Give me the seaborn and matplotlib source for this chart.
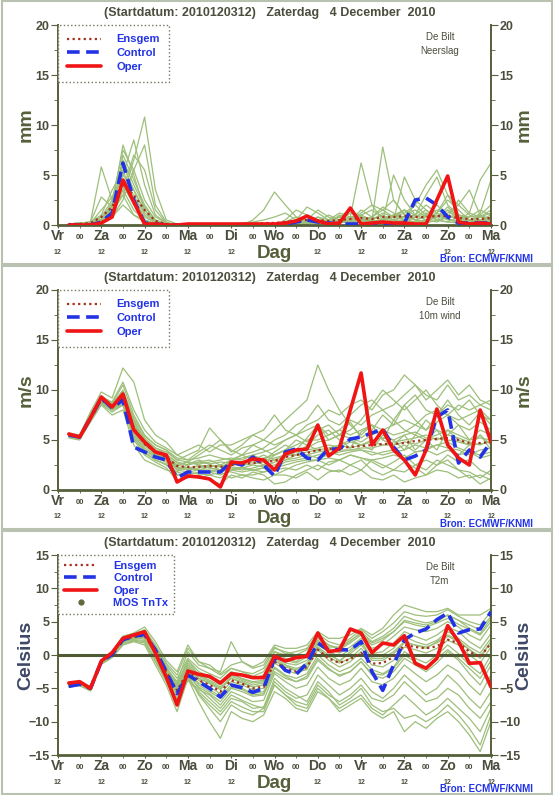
import numpy as np
import pandas as pd
import seaborn as sns
import matplotlib.pyplot as plt
import matplotlib.transforms as mtransforms
from matplotlib.lines import Line2D
from matplotlib.patches import Rectangle
from matplotlib.ticker import MultipleLocator, FixedLocator

sns.set_style("white")
plt.rcParams['font.family'] = ['Liberation Sans', 'DejaVu Sans']

# forecast hours after 2010120312, 6-hourly
hours = list(range(6, 241, 6))
day_names = ['Vr', 'Za', 'Zo', 'Ma', 'Di', 'Wo', 'Do', 'Vr', 'Za', 'Zo', 'Ma']
title = '(Startdatum: 2010120312)   Zaterdag   4 December  2010'

# ---------------- Neerslag (mm) ----------------
precip_oper = [0, 0, 0, 0.2, 0.8, 4.5, 2.3, 0.1, 0.1, 0,
               0, 0.1, 0.1, 0.1, 0.1, 0.1, 0.1, 0.1, 0.1, 0.1,
               0.2, 0.4, 0.9, 0.4, 0.1, 0.2, 1.7, 0.1, 0.2, 0.3,
               0.2, 0.2, 0.1, 0.1, 2.5, 4.9, 0.3, 0.1, 0.2, 0.1]
precip_control = [0, 0, 0, 0.3, 1.2, 6.2, 2.5, 0.2, 0.1, 0,
                  0, 0, 0, 0, 0, 0, 0, 0, 0, 0,
                  0.1, 0.3, 0.5, 0.3, 0.2, 0.1, 0.1, 0.1, 0.1, 0.2,
                  0.1, 0.2, 2.5, 2.7, 2.0, 0.8, 0.2, 0.2, 0.2, 0.2]
precip_mean = [0.1, 0.1, 0.2, 0.8, 1.8, 4.0, 3.0, 1.5, 0.4, 0.1,
               0, 0, 0, 0, 0, 0, 0.1, 0.1, 0.2, 0.2,
               0.3, 0.4, 0.5, 0.5, 0.4, 0.5, 0.6, 0.7, 0.6, 0.8,
               0.8, 0.9, 0.8, 0.8, 0.9, 0.9, 0.7, 0.6, 0.6, 0.7]
precip_members = [
    [0, 0.1, 0.2, 0.8, 1.5, 4.5, 3.0, 1.0, 0.2, 0.1, 0, 0, 0, 0, 0, 0, 0, 0, 0, 0,
     0.2, 0.5, 0.3, 0.8, 0.2, 0.5, 1.2, 0.8, 0.3, 0.5, 1.0, 0.5, 0.8, 1.5, 0.5, 0.3, 0.8, 0.5, 0.2, 0.5],
    [0.1, 0.2, 0.3, 5.8, 2.5, 3.5, 1.5, 0.5, 0.1, 0, 0, 0, 0, 0, 0, 0, 0, 0, 0, 0,
     0, 0, 0.5, 1.5, 0.8, 0.3, 0.5, 1.2, 2.0, 1.5, 0.8, 1.2, 2.0, 1.0, 0.5, 1.5, 0.8, 0.3, 0.5, 1.0],
    [0, 0, 0.1, 0.5, 1.2, 3.0, 6.5, 10.8, 3.5, 0.5, 0.1, 0, 0, 0, 0, 0, 0, 0, 0, 0,
     0, 0.3, 0.8, 0.4, 0.2, 1.0, 0.5, 0.2, 0.8, 1.8, 1.2, 0.5, 1.0, 2.0, 1.2, 0.6, 0.4, 0.3, 0.8, 0.5],
    [0.1, 0.1, 0.2, 0.5, 2.0, 6.0, 3.5, 1.2, 0.3, 0.1, 0, 0, 0, 0, 0, 0.1, 0.2, 0.3, 0.5, 0.8,
     1.2, 0.5, 0.2, 0.3, 0.5, 0.3, 0.8, 6.2, 2.0, 0.5, 0.8, 1.5, 1.0, 3.0, 4.8, 2.0, 1.0, 0.5, 0.8, 1.2],
    [0, 0.1, 0.2, 1.5, 2.8, 5.0, 8.5, 4.0, 1.0, 0.2, 0, 0, 0, 0, 0, 0, 0, 0, 0, 0,
     0, 0, 0.2, 0.5, 0.3, 0.8, 1.5, 0.8, 0.5, 7.8, 2.5, 1.0, 1.5, 0.8, 1.2, 2.5, 1.5, 0.5, 0.3, 0.8],
    [0, 0, 0.1, 0.3, 1.0, 7.0, 4.5, 2.0, 0.5, 0.1, 0, 0, 0, 0, 0, 0, 0, 0.5, 1.5, 3.3,
     2.0, 0.8, 0.5, 0.3, 0.1, 0.2, 0.5, 0.3, 0.2, 0.5, 5.0, 2.5, 1.0, 0.5, 1.2, 3.0, 2.0, 1.0, 0.5, 0.3],
    [0, 0, 0, 0.3, 1.8, 8.0, 5.0, 1.5, 0.3, 0, 0, 0, 0, 0, 0, 0, 0, 0, 0, 0,
     0.5, 1.5, 1.0, 0.5, 0.3, 0.5, 0.2, 1.0, 1.5, 0.8, 0.5, 4.8, 2.5, 1.5, 0.8, 1.2, 2.0, 3.5, 1.0, 0.5],
    [0.1, 0.2, 0.3, 1.0, 3.5, 5.5, 2.5, 0.8, 0.2, 0, 0, 0, 0, 0, 0, 0, 0, 0, 0, 0,
     0, 0.2, 0.5, 0.3, 1.0, 0.5, 0.3, 0.5, 0.8, 0.5, 1.0, 0.8, 2.0, 4.0, 5.5, 3.0, 1.0, 0.8, 1.5, 1.0],
    [0, 0, 0.1, 0.2, 0.8, 2.5, 5.5, 8.0, 2.0, 0.3, 0, 0, 0, 0, 0, 0, 0, 0, 0, 0,
     0, 0, 0.2, 0.3, 0.5, 0.8, 0.3, 0.5, 0.2, 0.4, 0.8, 1.5, 0.5, 0.3, 0.8, 1.5, 0.5, 0.3, 1.0, 2.0],
    [0, 0, 0.1, 0.4, 1.5, 4.0, 2.0, 0.5, 0.1, 0, 0, 0, 0, 0, 0, 0, 0, 0, 0, 0,
     0.3, 0.8, 0.3, 0.2, 0.5, 1.2, 0.8, 0.3, 0.5, 1.0, 0.5, 0.3, 0.8, 1.2, 0.5, 0.8, 2.5, 1.2, 4.5, 6.2],
    [0, 0.1, 0.2, 0.6, 2.2, 5.0, 3.5, 1.5, 0.4, 0.1, 0, 0, 0, 0, 0, 0, 0, 0, 0, 0,
     0.2, 0.5, 1.8, 1.2, 0.5, 0.3, 0.5, 1.5, 0.8, 0.5, 1.0, 1.5, 0.5, 0.8, 1.5, 1.0, 0.5, 0.8, 1.0, 0.5],
    [0.1, 0.1, 0.3, 2.8, 1.8, 3.0, 1.0, 0.3, 0, 0, 0, 0, 0, 0, 0, 0, 0, 0, 0, 0,
     0, 0.1, 0.3, 0.8, 0.5, 0.2, 0.5, 0.8, 0.5, 1.2, 0.8, 0.5, 0.3, 0.5, 0.8, 1.8, 0.8, 0.3, 1.2, 4.5],
    [0, 0, 0.1, 0.5, 1.2, 6.5, 4.0, 1.8, 0.5, 0.1, 0, 0, 0, 0, 0, 0, 0, 0, 0, 0,
     0, 0.3, 0.2, 0.5, 0.3, 0.8, 1.5, 0.5, 0.8, 1.5, 2.5, 1.0, 0.5, 1.0, 2.0, 1.0, 0.5, 1.2, 0.8, 1.5],
    [0, 0, 0, 0.2, 1.0, 3.5, 7.0, 5.5, 1.5, 0.2, 0, 0, 0, 0, 0, 0, 0, 0, 0, 0,
     0.1, 0.2, 0.2, 0.3, 0.2, 0.5, 0.3, 0.2, 0.5, 0.3, 0.5, 0.8, 1.0, 0.5, 0.3, 0.8, 1.0, 0.5, 0.3, 0.8],
    [0.1, 0.2, 0.2, 0.8, 2.5, 7.5, 5.5, 2.5, 0.8, 0.2, 0, 0, 0, 0, 0, 0, 0, 0, 0, 0,
     0, 0, 0.3, 0.2, 0.3, 0.5, 0.8, 1.0, 0.5, 0.3, 0.5, 0.8, 0.5, 0.3, 1.0, 0.5, 0.3, 0.2, 0.5, 0.8],
    [0, 0.1, 0.1, 0.3, 0.8, 2.0, 1.0, 0.5, 0.1, 0, 0, 0, 0, 0, 0, 0, 0, 0, 0, 0,
     0, 0, 0.1, 0.2, 0.1, 0.3, 0.2, 0.5, 0.3, 0.2, 0.3, 0.5, 0.3, 0.2, 0.5, 0.3, 0.2, 0.3, 0.5, 0.3],
]

# ---------------- 10m wind (m/s) ----------------
wind_oper = [5.6, 5.3, 7.2, 9.3, 8.3, 9.6, 6.0, 4.8, 3.8, 3.5,
             0.8, 1.4, 1.3, 1.1, 0.3, 2.8, 2.7, 3.1, 3.0, 2.0,
             3.6, 4.0, 4.1, 6.5, 3.4, 4.2, 8.0, 11.7, 4.5, 6.0,
             4.0, 3.0, 1.5, 4.0, 8.1, 4.5, 3.2, 2.5, 8.0, 4.8]
wind_control = [5.5, 5.3, 7.2, 9.2, 8.2, 9.0, 4.3, 3.8, 3.3, 3.0,
                1.2, 1.8, 1.8, 1.8, 1.8, 2.8, 2.5, 3.3, 2.5, 1.4,
                3.8, 4.1, 3.2, 3.0, 4.1, 4.1, 5.1, 5.3, 5.7, 6.1,
                4.3, 3.0, 3.4, 4.0, 7.3, 8.0, 2.7, 4.0, 3.3, 4.8]
wind_mean = [5.5, 5.3, 7.3, 9.0, 8.3, 9.3, 6.2, 4.6, 3.8, 3.3,
             2.4, 2.3, 2.3, 2.4, 2.3, 2.5, 2.6, 2.7, 2.8, 2.9,
             3.3, 3.5, 3.7, 4.0, 4.1, 4.2, 4.3, 4.4, 4.5, 4.6,
             4.6, 4.7, 4.9, 5.0, 5.1, 5.2, 5.0, 4.7, 4.7, 4.8]
wind_members = [
    [5.6, 5.4, 7.5, 9.3, 8.6, 10.0, 7.0, 5.0, 4.0, 3.5, 2.8, 2.5, 2.8, 3.0, 2.5, 3.0, 3.2, 3.5, 3.0, 3.8,
     4.5, 4.0, 5.2, 6.5, 5.0, 5.5, 6.8, 5.2, 6.0, 7.5, 6.5, 8.5, 7.0, 6.0, 7.5, 9.0, 7.5, 6.5, 7.8, 6.5],
    [5.3, 5.1, 7.0, 8.7, 8.0, 8.8, 5.5, 4.0, 3.2, 2.8, 1.5, 1.8, 1.6, 1.5, 1.2, 2.0, 1.8, 2.0, 2.2, 1.5,
     2.0, 2.5, 2.8, 3.0, 2.5, 3.0, 3.5, 3.2, 2.8, 2.2, 2.8, 3.5, 2.5, 2.0, 3.0, 2.5, 2.0, 1.8, 1.2, 2.0],
    [5.5, 5.3, 7.3, 9.0, 8.4, 9.5, 6.5, 4.8, 3.8, 3.4, 2.5, 2.2, 2.4, 2.2, 2.0, 2.5, 2.6, 2.8, 3.0, 3.2,
     3.5, 3.8, 4.0, 4.2, 4.5, 4.3, 4.8, 4.5, 5.0, 5.2, 5.0, 5.5, 5.8, 5.2, 5.5, 6.0, 5.5, 5.0, 5.2, 5.0],
    [5.7, 5.5, 7.8, 9.8, 9.2, 12.2, 10.8, 7.0, 5.5, 4.8, 3.5, 3.0, 3.8, 4.5, 4.0, 3.5, 4.2, 4.5, 4.0, 3.5,
     4.0, 5.0, 4.5, 5.5, 6.0, 5.0, 4.2, 5.8, 6.5, 5.0, 7.0, 6.0, 5.5, 7.0, 6.0, 5.5, 6.5, 5.0, 6.0, 5.5],
    [5.4, 5.2, 7.1, 8.8, 8.0, 8.5, 5.0, 3.5, 2.8, 2.2, 1.0, 1.2, 1.5, 1.0, 0.6, 1.5, 1.2, 1.8, 1.5, 0.6,
     0.8, 1.5, 2.0, 2.5, 2.0, 1.8, 2.5, 3.0, 2.0, 1.5, 2.0, 1.8, 2.5, 3.0, 2.5, 3.5, 2.8, 3.0, 2.0, 1.5],
    [5.5, 5.3, 7.4, 9.1, 8.3, 9.2, 6.0, 4.4, 3.7, 3.2, 2.5, 2.8, 3.5, 4.2, 5.0, 4.0, 3.5, 4.5, 5.0, 6.0,
     7.0, 8.0, 9.0, 12.5, 10.0, 8.0, 6.5, 5.5, 6.5, 5.0, 4.5, 5.5, 4.0, 5.0, 6.0, 4.5, 3.5, 4.5, 5.5, 4.0],
    [5.5, 5.3, 7.2, 8.9, 8.2, 9.0, 6.0, 4.6, 3.9, 3.4, 2.2, 2.0, 2.2, 2.5, 2.3, 2.8, 2.5, 2.6, 2.8, 3.0,
     3.5, 3.5, 3.8, 4.0, 4.2, 4.5, 4.2, 4.5, 4.8, 4.5, 4.8, 5.0, 5.2, 5.5, 5.0, 5.5, 5.2, 4.8, 4.5, 5.0],
    [5.6, 5.4, 7.6, 9.4, 8.7, 10.5, 7.5, 5.5, 4.5, 4.0, 3.0, 3.5, 4.0, 6.2, 5.0, 3.8, 4.5, 5.5, 6.0, 7.5,
     6.0, 5.5, 6.5, 7.0, 8.0, 7.5, 8.5, 9.0, 8.0, 9.5, 10.0, 11.5, 10.5, 9.0, 10.0, 11.0, 9.5, 10.5, 9.0, 8.5],
    [5.2, 5.0, 6.8, 8.5, 7.5, 8.0, 4.5, 3.0, 2.5, 2.0, 1.8, 1.5, 1.2, 1.5, 1.8, 1.2, 1.5, 1.2, 1.0, 1.5,
     1.5, 1.2, 1.8, 1.0, 1.8, 2.0, 1.5, 2.0, 1.2, 1.0, 1.5, 0.8, 1.2, 1.5, 2.0, 1.8, 1.2, 1.5, 0.6, 1.2],
    [5.5, 5.3, 7.3, 9.0, 8.3, 9.3, 6.2, 4.8, 3.5, 3.0, 2.5, 2.8, 2.5, 2.2, 2.0, 2.4, 2.8, 3.0, 3.5, 3.0,
     3.2, 4.0, 4.2, 4.8, 5.0, 5.5, 5.2, 4.8, 5.5, 6.0, 5.5, 5.8, 6.5, 6.0, 6.8, 7.5, 6.5, 6.0, 6.8, 6.0],
    [5.4, 5.2, 7.2, 8.9, 8.2, 9.0, 5.8, 4.2, 3.5, 3.2, 2.0, 1.8, 2.0, 2.0, 1.8, 2.2, 2.0, 2.2, 2.5, 2.2,
     2.8, 3.0, 3.2, 3.5, 3.8, 3.5, 3.8, 4.0, 3.8, 3.5, 3.8, 4.0, 4.5, 4.2, 4.5, 4.8, 4.2, 3.8, 3.5, 3.8],
    [5.6, 5.4, 7.4, 9.2, 8.5, 9.8, 6.8, 5.2, 4.2, 3.8, 3.0, 2.8, 2.6, 2.8, 3.0, 3.2, 3.0, 3.5, 3.8, 4.2,
     5.0, 5.5, 6.0, 6.5, 5.5, 6.0, 7.0, 6.5, 7.5, 8.0, 7.0, 8.5, 9.5, 8.0, 7.5, 8.5, 8.0, 9.0, 7.5, 7.0],
    [5.5, 5.3, 7.3, 9.1, 8.4, 9.4, 6.4, 4.7, 3.8, 3.3, 2.3, 2.0, 2.5, 2.3, 2.5, 2.3, 2.2, 2.5, 2.3, 2.5,
     3.0, 3.2, 3.5, 3.8, 4.0, 4.0, 4.0, 4.2, 4.2, 4.5, 4.5, 4.8, 4.6, 5.0, 5.2, 5.0, 4.8, 4.5, 4.6, 4.8],
    [5.3, 5.1, 7.0, 8.6, 7.8, 8.5, 5.2, 3.8, 3.0, 2.5, 1.5, 1.5, 1.8, 1.8, 2.0, 1.8, 1.5, 1.5, 1.8, 2.0,
     2.2, 2.0, 2.5, 2.0, 2.8, 3.0, 2.5, 2.0, 3.0, 2.5, 2.0, 2.8, 2.2, 1.5, 2.5, 3.0, 2.0, 1.2, 1.5, 1.0],
    [5.6, 5.4, 7.5, 9.3, 8.8, 10.8, 8.0, 6.0, 4.8, 4.2, 3.5, 4.0, 4.5, 3.8, 4.5, 4.5, 5.0, 5.5, 5.0, 4.5,
     5.0, 5.5, 4.8, 6.0, 6.5, 5.5, 6.0, 7.0, 8.5, 10.0, 9.0, 8.0, 9.0, 10.0, 8.5, 7.5, 8.5, 8.0, 8.5, 9.0],
    [5.4, 5.2, 7.2, 8.9, 8.1, 8.9, 5.6, 4.0, 3.4, 3.0, 2.0, 2.3, 2.0, 1.8, 1.5, 2.0, 2.2, 2.0, 2.2, 2.8,
     3.0, 3.5, 3.5, 3.2, 3.5, 3.8, 4.0, 4.0, 3.5, 3.8, 4.0, 4.5, 3.8, 4.0, 4.5, 4.2, 4.0, 3.5, 4.0, 4.2],
    [5.5, 5.4, 7.4, 9.0, 8.4, 9.6, 6.6, 5.0, 4.2, 3.6, 2.7, 2.5, 2.8, 2.6, 2.8, 2.7, 2.8, 3.0, 3.2, 3.5,
     4.0, 4.5, 5.0, 5.0, 5.5, 6.0, 5.5, 6.0, 6.5, 6.0, 6.5, 7.0, 6.5, 7.5, 8.0, 7.5, 7.0, 7.5, 8.0, 7.0],
    [5.5, 5.3, 7.3, 9.0, 8.2, 9.1, 6.0, 4.5, 3.6, 3.1, 2.2, 2.2, 2.0, 2.3, 2.5, 2.0, 2.3, 2.0, 1.8, 2.2,
     2.5, 2.8, 3.0, 3.0, 3.2, 3.0, 3.5, 3.2, 3.0, 3.2, 3.5, 3.2, 3.8, 4.0, 3.5, 4.0, 3.5, 3.8, 3.2, 3.5],
    [5.3, 5.2, 7.1, 8.8, 8.0, 8.6, 5.3, 3.7, 3.0, 2.6, 1.8, 2.6, 3.0, 2.6, 2.0, 3.0, 3.5, 3.0, 2.5, 3.5,
     4.0, 3.5, 4.5, 4.0, 3.5, 4.5, 5.0, 4.5, 4.0, 5.5, 5.0, 4.0, 5.5, 5.0, 4.0, 6.0, 5.0, 4.5, 5.5, 4.5],
    [5.6, 5.4, 7.5, 9.2, 8.6, 9.9, 7.2, 5.4, 4.5, 4.0, 3.2, 3.0, 3.2, 3.5, 3.2, 3.0, 3.5, 3.8, 4.2, 5.0,
     5.5, 6.5, 7.0, 8.5, 7.0, 6.5, 7.5, 8.5, 9.0, 8.0, 8.5, 9.5, 10.5, 9.5, 9.0, 10.5, 9.0, 9.5, 8.5, 8.0],
]

# ---------------- T2m (Celsius) ----------------
temp_oper = [-4.2, -4.0, -5.0, -0.9, 0.35, 2.5, 3.0, 3.5, 0.3, -3.3,
             -7.5, -2.4, -2.9, -3.2, -4.2, -2.8, -3.0, -3.4, -3.4, -0.2,
             -0.9, -0.4, -0.2, 3.3, 0.5, 0.75, 3.9, 3.3, 0.35, 1.8,
             1.5, 2.9, -1.25, -2.0, -0.5, 4.4, 2.0, -1.25, -1.15, -4.8]
temp_control = [-4.7, -4.4, -5.0, -1.0, 0.1, 2.3, 2.8, 3.1, 0.75, -2.5,
                -5.8, -3.0, -4.0, -5.0, -6.3, -4.5, -4.9, -5.6, -5.0, -0.5,
                -2.3, -2.9, -1.25, 1.8, 0.75, 0.8, 0.75, 2.0, -2.5, -5.3,
                -1.5, 2.3, 3.3, 3.9, 5.3, 6.3, 3.3, 3.8, 3.9, 6.5]
temp_mean = [-4.5, -4.3, -5.0, -1.0, 0.2, 2.3, 2.7, 2.9, 0.5, -2.5,
             -5.3, -2.5, -3.8, -4.5, -5.5, -3.8, -4.3, -5.0, -4.8, -1.0,
             -2.0, -2.5, -1.8, 0.8, -0.5, -1.2, -0.6, 0.3, -1.3, -1.2,
             -0.3, 1.5, 1.2, 1.0, 1.3, 2.3, 1.8, 0.5, -0.3, 1.8]
temp_members = [
    [-4.3, -4.0, -4.8, -0.8, 0.5, 2.8, 3.2, 3.6, 1.2, -1.5, -3.5, -0.5, -2.0, -2.8, -3.5, -2.0, -2.5, -3.2, -2.5, 0.5,
     -0.5, -1.0, 0.2, 2.5, 1.5, 0.8, 1.8, 3.0, 1.5, 2.2, 3.5, 5.0, 4.5, 4.2, 4.8, 5.5, 4.6, 3.8, 3.0, 5.0],
    [-4.8, -4.5, -5.3, -1.3, -0.2, 1.8, 2.2, 2.0, -0.8, -3.8, -7.0, -3.8, -5.5, -7.0, -8.5, -6.5, -7.0, -8.0, -7.8, -4.0,
     -5.5, -6.5, -6.0, -3.0, -4.5, -6.0, -5.0, -3.5, -5.5, -6.5, -5.0, -3.0, -4.5, -6.0, -5.0, -3.0, -4.5, -6.5, -8.0, -5.5],
    [-4.5, -4.2, -5.0, -0.9, 0.3, 2.6, 3.0, 3.2, 0.4, -2.2, -4.8, -1.8, -3.0, -3.8, -4.5, -2.8, -3.6, -4.2, -4.0, -0.2,
     -1.2, -1.5, -0.8, 1.8, 0.5, -0.2, 0.8, 2.2, 0.2, 0.5, 1.8, 3.5, 2.8, 2.2, 3.0, 4.2, 3.5, 2.0, 1.0, 3.2],
    [-4.6, -4.4, -5.1, -1.1, 0.0, 2.0, 2.4, 2.6, 0.0, -3.0, -6.0, -3.0, -4.8, -5.8, -7.0, -5.0, -5.5, -6.2, -6.0, -2.5,
     -3.5, -4.0, -3.5, -0.8, -2.2, -3.0, -2.5, -1.0, -3.0, -3.5, -2.5, -0.5, -1.5, -2.5, -1.2, 0.5, -0.8, -2.8, -4.5, -1.5],
    [-4.4, -4.1, -4.9, -1.0, 0.4, 2.5, 2.9, 3.3, 0.8, -2.0, -4.0, 0.5, -1.5, -2.0, -2.5, 2.0, -1.0, -2.0, -1.5, 1.2,
     0.2, 0.5, 1.0, 3.2, 2.0, 1.5, 2.5, 3.8, 2.5, 3.5, 4.8, 6.5, 6.0, 5.8, 6.0, 6.8, 5.8, 5.0, 4.5, 6.5],
    [-4.7, -4.3, -5.2, -1.2, 0.1, 2.2, 2.5, 2.4, 0.2, -2.8, -5.5, -2.8, -5.0, -6.5, -8.0, -6.0, -6.8, -7.5, -8.0, -3.5,
     -5.0, -6.0, -7.0, -4.0, -5.5, -7.5, -6.5, -5.0, -7.5, -8.5, -8.0, -9.5, -9.0, -10.0, -9.0, -7.5, -9.0, -11.0, -13.5, -9.0],
    [-4.5, -4.3, -5.0, -0.9, 0.2, 2.4, 2.8, 3.0, 0.6, -2.3, -5.0, -1.5, -3.5, -4.2, -5.0, -3.2, -3.8, -4.5, -4.2, -0.8,
     -1.8, -2.2, -1.2, 1.2, 0.0, -0.8, 0.2, 1.5, -0.3, 0.0, 1.0, 2.8, 2.0, 1.5, 2.2, 3.5, 2.5, 1.2, 0.3, 2.5],
    [-4.6, -4.4, -5.0, -1.0, 0.1, 2.1, 2.6, 2.8, 0.3, -2.6, -5.8, -2.6, -4.2, -5.2, -6.2, -4.5, -5.0, -5.8, -5.5, -1.8,
     -3.0, -3.5, -2.8, 0.0, -1.5, -2.5, -1.8, -0.5, -2.2, -2.8, -1.8, 0.5, -0.5, -1.2, 0.0, 1.5, 0.2, -1.5, -2.8, 0.0],
    [-4.8, -4.6, -5.4, -1.4, -0.4, 1.5, 2.0, 1.5, -1.5, -4.5, -8.5, -3.5, -7.0, -10.0, -12.5, -8.5, -9.5, -10.0, -9.0, -5.5,
     -6.5, -8.0, -8.5, -5.5, -6.5, -8.5, -7.5, -6.5, -8.5, -9.5, -8.5, -11.5, -10.0, -11.0, -9.5, -8.5, -10.0, -12.0, -14.5, -10.0],
    [-4.3, -4.1, -4.9, -0.8, 0.4, 2.7, 3.1, 3.5, 1.0, -1.8, -4.2, -0.8, -2.5, -3.2, -4.0, -2.5, -3.0, -3.5, -3.0, 0.0,
     -0.8, -1.2, -0.3, 2.0, 1.0, 0.3, 1.2, 2.5, 1.0, 1.5, 2.8, 4.2, 3.8, 3.5, 4.0, 5.0, 4.2, 3.0, 2.2, 4.5],
    [-4.5, -4.2, -5.0, -1.0, 0.2, 2.3, 2.7, 2.9, 0.4, -2.4, -5.2, -2.0, -3.8, -4.8, -5.8, -4.0, -4.5, -5.2, -5.0, -1.2,
     -2.2, -2.8, -2.0, 0.8, -0.8, -1.8, -1.0, 0.5, -1.5, -1.8, -0.8, 1.2, 0.8, 0.3, 1.0, 2.2, 1.5, 0.0, -1.2, 1.2],
    [-4.4, -4.2, -4.9, -0.9, 0.3, 2.6, 3.1, 3.8, 1.5, -1.2, -3.0, 1.0, -1.0, -1.5, -2.8, -1.5, -1.0, -1.8, -1.0, 1.5,
     1.0, 1.0, 1.5, 3.5, 2.5, 2.5, 3.0, 4.0, 3.0, 4.0, 6.0, 7.5, 7.0, 6.5, 6.5, 7.0, 6.0, 6.0, 6.0, 7.0],
    [-4.6, -4.3, -5.1, -1.1, 0.0, 2.0, 2.5, 2.7, 0.0, -3.2, -6.5, -3.2, -5.8, -7.5, -9.0, -7.0, -7.8, -8.5, -8.5, -4.5,
     -6.0, -7.0, -7.5, -4.5, -6.0, -7.0, -6.0, -4.5, -6.5, -7.0, -6.0, -4.0, -5.5, -7.0, -6.5, -5.0, -6.0, -8.0, -9.5, -7.0],
    [-4.5, -4.2, -5.0, -0.9, 0.3, 2.5, 2.9, 3.1, 0.7, -2.0, -4.5, -1.2, -3.2, -4.0, -4.8, -3.5, -4.0, -4.8, -4.5, -1.0,
     -1.5, -2.5, -2.2, 1.5, 0.5, -1.0, 0.5, 2.0, -0.5, -0.5, 0.5, 2.0, 1.5, 1.0, 2.0, 3.0, 2.2, 0.8, -0.5, 2.0],
    [-4.7, -4.4, -5.2, -1.2, -0.1, 2.0, 2.3, 2.2, -0.5, -3.5, -6.8, -3.6, -5.2, -6.0, -7.5, -5.5, -6.2, -7.0, -6.8, -2.8,
     -4.0, -5.0, -4.5, -1.8, -3.5, -4.5, -3.8, -2.0, -4.0, -4.5, -3.5, -1.5, -2.8, -4.0, -3.0, -1.5, -2.5, -4.5, -6.0, -3.0],
    [-4.4, -4.1, -4.8, -0.8, 0.4, 2.8, 3.3, 4.2, 2.0, -0.8, -2.5, 1.5, -1.0, -2.0, -3.0, -2.0, -2.5, -2.8, -2.0, 1.0,
     0.5, 0.0, 0.8, 2.8, 1.5, 1.0, 2.0, 3.5, 2.0, 2.8, 4.0, 5.8, 5.2, 4.8, 5.2, 6.0, 5.2, 4.5, 3.8, 5.8],
    [-4.6, -4.3, -5.1, -1.0, 0.1, 2.2, 2.6, 2.7, 0.2, -2.7, -5.5, -2.2, -4.5, -5.5, -6.5, -4.8, -5.2, -6.0, -5.8, -2.0,
     -3.2, -4.0, -3.2, -0.5, -2.0, -3.2, -2.5, -1.0, -2.8, -3.0, -2.0, 0.0, -1.0, -1.8, -0.5, 0.8, -0.5, -2.0, -3.5, -0.8],
    [-4.7, -4.5, -5.3, -1.3, -0.3, 1.6, 2.1, 1.8, -1.0, -4.0, -7.5, -3.0, -6.0, -8.0, -10.0, -7.5, -8.5, -9.0, -8.0, -4.5,
     -6.0, -7.5, -8.0, -5.0, -6.5, -8.0, -7.0, -6.0, -8.0, -9.0, -7.5, -6.0, -7.5, -9.0, -8.0, -6.5, -8.0, -9.5, -11.5, -8.0],
    [-4.5, -4.2, -5.0, -1.0, 0.2, 2.4, 2.8, 3.0, 0.5, -2.5, -5.0, -2.2, -3.5, -4.3, -5.2, -3.5, -4.2, -4.8, -4.5, -0.5,
     -1.5, -2.0, -1.5, 1.0, -0.3, -1.2, -0.5, 1.0, -0.8, -0.8, 0.2, 1.8, 1.5, 1.2, 1.8, 2.8, 2.0, 0.8, -0.2, 2.0],
    [-4.4, -4.2, -4.9, -0.9, 0.3, 2.5, 3.0, 3.3, 0.8, -1.8, -4.5, -0.8, -3.0, -3.5, -4.2, -3.0, -3.5, -4.0, -3.8, 0.5,
     0.0, -0.5, 0.2, 2.2, 1.2, 1.2, 2.2, 3.2, 1.8, 2.5, 3.5, 5.2, 4.8, 4.5, 5.0, 6.0, 5.2, 4.0, 3.2, 5.5],
]

# colours
GREEN = '#9dbf7a'
OLIVE = '#55603a'
TXT = '#4a4e3c'
BLUE = '#2233e6'
RED = '#f01414'
MEANC = '#a5301c'

W, H = 554, 795
fig = plt.figure(figsize=(W / 100, H / 100), dpi=100)


def draw_panel(top, members, mean, control, oper, ylim, ylabel, station, ylabel_color, mos=False):
    # top = pixel offset of the panel
    ax = fig.add_axes([58 / W, 1 - (top + 225) / H, 433 / W, 200 / H])
    rows = [(h, v, m) for m, vals in enumerate(members) for h, v in zip(hours, vals)]
    df = pd.DataFrame(rows, columns=['hour', 'value', 'member'])
    sns.lineplot(data=df, x='hour', y='value', units='member', estimator=None,
                 color=GREEN, lw=0.9, ax=ax, legend=False, zorder=2)
    if ylim[0] < 0:
        ax.axhline(0, color='#4f5a34', lw=2.2, zorder=3)
    sns.lineplot(x=hours, y=mean, ax=ax, color=MEANC, lw=1.6, linestyle=(0, (1, 1.5)),
                 label='Ensgem', zorder=4)
    sns.lineplot(x=hours, y=control, ax=ax, color=BLUE, lw=2.6, linestyle=(0, (3.5, 1.8)),
                 label='Control', zorder=5)
    sns.lineplot(x=hours, y=oper, ax=ax, color=RED, lw=2.6, label='Oper', zorder=6)

    ax.set_xlim(0, 240)
    ax.set_ylim(*ylim)
    ax.set_xlabel('')
    ax.set_ylabel('')
    for side in ['left', 'right', 'bottom']:
        ax.spines[side].set_color(OLIVE)
        ax.spines[side].set_linewidth(1.4)
    ax.spines['bottom'].set_linewidth(2)
    ax.spines['top'].set_visible(False)

    ax.yaxis.set_major_locator(MultipleLocator(5))
    ax.yaxis.set_minor_locator(MultipleLocator(2.5))
    ax.tick_params(axis='y', which='both', left=True, right=True, labelleft=True,
                   labelright=True, direction='out', colors=OLIVE, labelcolor=TXT)
    ax.tick_params(axis='y', which='major', length=5, labelsize=9, pad=1)
    ax.tick_params(axis='y', which='minor', length=3)
    for lab in ax.get_yticklabels():
        lab.set_fontweight('bold')

    ax.xaxis.set_major_locator(FixedLocator(list(range(0, 241, 24))))
    ax.xaxis.set_minor_locator(FixedLocator(list(range(12, 241, 24))))
    ax.set_xticklabels(day_names, fontsize=10, fontweight='bold', color=TXT)
    ax.set_xticklabels(['00'] * 10, minor=True, fontsize=5.5, fontweight='bold', color=TXT)
    ax.tick_params(axis='x', which='both', bottom=True, direction='out', colors=OLIVE,
                   labelcolor=TXT, length=2)
    ax.tick_params(axis='x', which='major', pad=1)
    ax.tick_params(axis='x', which='minor', pad=4.5)

    # "12" under each day name (the one under "Wo" is hidden by "Dag")
    trans = mtransforms.blended_transform_factory(ax.transData, ax.transAxes)
    for d in range(0, 241, 24):
        if d == 120:
            continue
        ax.text(d, -0.135, '12', transform=trans, ha='center', va='center',
                fontsize=5, fontweight='bold', color=TXT)

    ax.text(0.5, -0.098, 'Dag', transform=ax.transAxes, ha='center', va='top',
            fontsize=13.5, fontweight='bold', color=OLIVE)
    ax.text(-0.074, 0.5, ylabel, transform=ax.transAxes, rotation=90, ha='center',
            va='center', fontsize=14, fontweight='bold', color=ylabel_color)
    ax.text(1.076, 0.5, ylabel, transform=ax.transAxes, rotation=90, ha='center',
            va='center', fontsize=14, fontweight='bold', color=ylabel_color)
    ax.text(0.882, 0.965, 'De Bilt\n' + station, transform=ax.transAxes, ha='center',
            va='top', fontsize=7, color=TXT, linespacing=1.5)
    ax.text(0.882, -0.17, 'Bron: ECMWF/KNMI', transform=ax.transAxes, ha='left',
            va='center', fontsize=7, fontweight='bold', color=BLUE)
    fig.text(270 / W, 1 - (top + 13) / H, title, ha='center', va='center',
             fontsize=9, fontweight='bold', color=TXT)

    handles, labels = ax.get_legend_handles_labels()
    if mos:
        handles.append(Line2D([], [], marker='o', ls='none', color='#5f6b3c', markersize=3.5))
        labels.append('MOS TnTx')
    leg = ax.legend(handles, labels, loc='upper left', bbox_to_anchor=(0, 1),
                    borderaxespad=0, fancybox=False, framealpha=1, edgecolor='#6f7860',
                    handlelength=3.0, handletextpad=1.4,
                    labelspacing=0.2 if mos else 0.35,
                    borderpad=0.55 if mos else 0.85,
                    prop={'size': 8, 'weight': 'bold'}, labelcolor=BLUE)
    leg.get_frame().set_linestyle(':')
    leg.get_frame().set_linewidth(1)
    fig.add_artist(Rectangle((2 / W, 1 - (top + 264) / H), 550 / W, 263 / H,
                             transform=fig.transFigure, fill=False,
                             edgecolor='#b9c1b1', lw=1.5))
    return ax


draw_panel(0, precip_members, precip_mean, precip_control, precip_oper,
           (0, 20), 'mm', 'Neerslag', OLIVE)
draw_panel(265, wind_members, wind_mean, wind_control, wind_oper,
           (0, 20), 'm/s', '10m wind', OLIVE)
draw_panel(530, temp_members, temp_mean, temp_control, temp_oper,
           (-15, 15), 'Celsius', 'T2m', '#3e4866', mos=True)

plt.savefig('out.png', dpi=100)
